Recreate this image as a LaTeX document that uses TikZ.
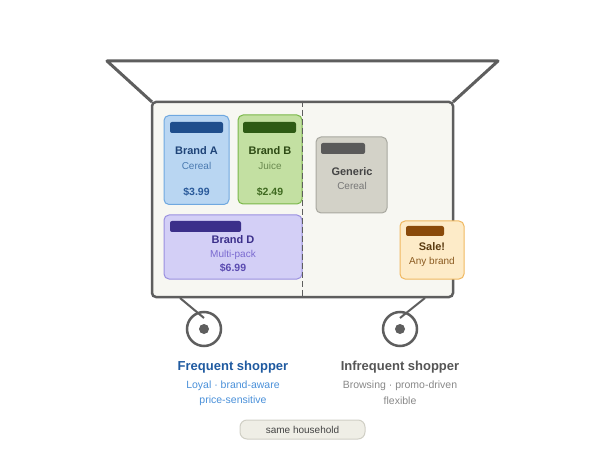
\documentclass[tikz,border=0pt]{standalone}
\usepackage{fontspec}
\setmainfont{Liberation Sans}
\usetikzlibrary{positioning,calc}
\definecolor{cartgray}{HTML}{5E5E5E}
\definecolor{basketfill}{HTML}{F7F7F2}
\definecolor{afill}{HTML}{B9D6F2}\definecolor{aline}{HTML}{6FA8E0}\definecolor{abar}{HTML}{1F4E8C}
\definecolor{atext}{HTML}{1F4478}\definecolor{asub}{HTML}{4A7AB0}\definecolor{aprice}{HTML}{2A5A9A}
\definecolor{bfill}{HTML}{C3E0A2}\definecolor{bline}{HTML}{7AB84A}\definecolor{bbar}{HTML}{2D5A14}
\definecolor{btext}{HTML}{2D4A14}\definecolor{bsub}{HTML}{6A8A50}\definecolor{bprice}{HTML}{3F6A20}
\definecolor{dfill}{HTML}{D3CFF6}\definecolor{dline}{HTML}{9A90E0}\definecolor{dbar}{HTML}{3B2F8A}
\definecolor{dtext}{HTML}{3B2F8A}\definecolor{dsub}{HTML}{7A6AD0}\definecolor{dprice}{HTML}{5A4AB0}
\definecolor{gfill}{HTML}{D3D2C8}\definecolor{gline}{HTML}{A8A8A0}\definecolor{gbar}{HTML}{5A5A5A}
\definecolor{gtext}{HTML}{444444}\definecolor{gsub}{HTML}{777777}
\definecolor{sfill}{HTML}{FDEBC8}\definecolor{sline}{HTML}{F0B860}\definecolor{sbar}{HTML}{8A4A0A}
\definecolor{stext}{HTML}{5A3A10}\definecolor{ssub}{HTML}{8A5A20}
\definecolor{freq}{HTML}{1F5AA0}\definecolor{freqsub}{HTML}{4A90D9}
\definecolor{infreq}{HTML}{555555}\definecolor{infreqsub}{HTML}{888888}
\definecolor{pillfill}{HTML}{EFEEE6}\definecolor{pillline}{HTML}{D0CFC5}
\tikzstyle{item}=[rectangle,rounded corners=5pt,line width=1pt,inner sep=0pt]
\tikzstyle{tag}=[rectangle,rounded corners=2pt,inner sep=0pt,minimum height=11pt]
\tikzstyle{brand}=[inner sep=0pt,font=\fontsize{11}{13}\selectfont\bfseries]
\tikzstyle{kind}=[inner sep=0pt,font=\fontsize{10}{12}\selectfont]
\tikzstyle{price}=[inner sep=0pt,font=\fontsize{10.5}{12}\selectfont\bfseries]
\tikzstyle{wheel}=[circle,draw=cartgray,line width=2.5pt,minimum size=34pt,inner sep=0pt]
\tikzstyle{hub}=[circle,fill=cartgray,minimum size=10pt,inner sep=0pt]
\tikzstyle{who}=[inner sep=0pt,font=\fontsize{13}{15}\selectfont\bfseries]
\tikzstyle{trait}=[inner sep=0pt,font=\fontsize{10.5}{12}\selectfont]

\begin{document}
\begin{tikzpicture}[x=1pt,y=-1pt]
  \useasboundingbox (0,0) rectangle (605,449);

  % cart rim and basket
  \draw[cartgray,line width=3pt,line join=round] (152,102) -- (107,61) -- (498,61) -- (453,102);
  \node[rectangle,draw=cartgray,fill=basketfill,line width=2.5pt,rounded corners=4pt,
        minimum width=301pt,minimum height=195pt,inner sep=0pt] (basket) at (302.5,199.5) {};

  % wheels
  \foreach \x / \name in {204/wl, 400/wr}{
    \node[wheel] (\name) at (\x,329) {};
    \node[hub] (\name hub) at (\x,329) {};
    \coordinate (\name top) at (\x,318);
  }
  \coordinate (al) at (180,298);
  \coordinate (ar) at (425,298);
  \draw[cartgray,line width=2pt] (al) -- (wltop);
  \draw[cartgray,line width=2pt] (ar) -- (wrtop);

  % products
  \node[item,draw=aline,fill=afill,minimum width=65pt,minimum height=89pt] (a) at (196.5,160) {};
  \node[tag,fill=abar,minimum width=53pt] (abar) at (196.5,127.5) {};
  \node[brand,text=atext] (aname) at (196.5,151) {Brand A};
  \node[kind,text=asub] (akind) at (196.5,166) {Cereal};
  \node[price,text=aprice] (aprice) at (196.5,192) {\$3.99};

  \node[item,draw=bline,fill=bfill,minimum width=64pt,minimum height=89pt] (b) at (270,159.5) {};
  \node[tag,fill=bbar,minimum width=53pt] (bbar) at (269.5,127.5) {};
  \node[brand,text=btext] (bname) at (270,151) {Brand B};
  \node[kind,text=bsub] (bkind) at (270,166) {Juice};
  \node[price,text=bprice] (bprice) at (270,192) {\$2.49};

  \node[item,draw=dline,fill=dfill,minimum width=138pt,minimum height=64pt] (d) at (233,247) {};
  \node[tag,fill=dbar,minimum width=71pt] (dbar) at (205.5,226.5) {};
  \node[brand,text=dtext] (dname) at (233,240) {Brand D};
  \node[kind,text=dsub] (dkind) at (233,255) {Multi-pack};
  \node[price,text=dprice] (dprice) at (233,268) {\$6.99};

  \node[item,draw=gline,fill=gfill,minimum width=71pt,minimum height=76pt] (g) at (351.5,175) {};
  \node[tag,fill=gbar,minimum width=44pt] (gbar) at (343,148.5) {};
  \node[brand,text=gtext] (gname) at (352,172) {Generic};
  \node[kind,text=gsub] (gkind) at (352,186) {Cereal};

  \node[item,draw=sline,fill=sfill,minimum width=64pt,minimum height=58pt] (s) at (432,250) {};
  \node[tag,fill=sbar,minimum width=38pt,minimum height=10pt] (sbar) at (425,231) {};
  \node[brand,text=stext] (sname) at (432,247) {Sale!};
  \node[kind,text=ssub] (skind) at (432,262) {Any brand};

  % divider over the products
  \draw[cartgray,line width=1.5pt,dash pattern=on 6pt off 3pt] (basket.north) -- (basket.south);

  % shopper captions
  \node[who,text=freq] (freq) at (233,367) {Frequent shopper};
  \node[trait,text=freqsub] (freq1) at (233,386) {Loyal · brand-aware};
  \node[trait,text=freqsub] (freq2) at (233,401) {price-sensitive};
  \node[who,text=infreq] (infreq) at (400,367) {Infrequent shopper};
  \node[trait,text=infreqsub] (infreq1) at (400,386) {Browsing · promo-driven};
  \node[trait,text=infreqsub] (infreq2) at (400,401) {flexible};

  \node[rectangle,rounded corners=7pt,draw=pillline,fill=pillfill,line width=1pt,
        minimum width=125pt,minimum height=19pt,inner sep=0pt,
        font=\fontsize{10}{12}\selectfont,text=gtext] (home) at (302.5,429.5) {same household};
\end{tikzpicture}
\end{document}
